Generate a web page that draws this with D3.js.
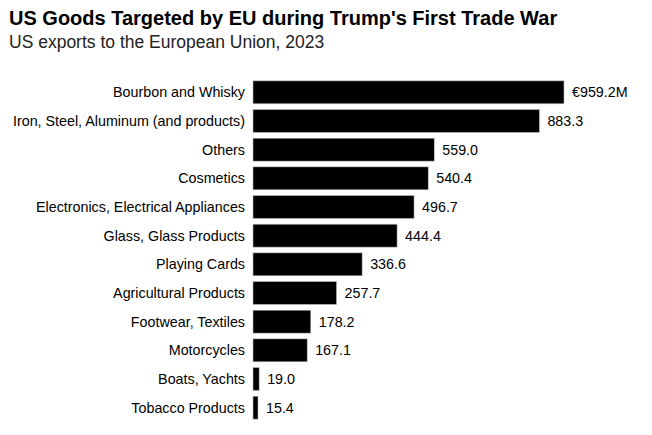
<!DOCTYPE html>
<html>
<head>
<meta charset="utf-8">
<script src="https://cdn.jsdelivr.net/npm/d3@7"></script>
<style>
  body { margin: 0; background: #fff; font-family: "Liberation Sans", Arial, sans-serif; }
  svg text { font-family: "Liberation Sans", Arial, sans-serif; }
</style>
</head>
<body>
<svg id="chart" width="652" height="435"></svg>
<script>
const categories = [
  'Bourbon and Whisky',
  'Iron, Steel, Aluminum (and products)',
  'Others',
  'Cosmetics',
  'Electronics, Electrical Appliances',
  'Glass, Glass Products',
  'Playing Cards',
  'Agricultural Products',
  'Footwear, Textiles',
  'Motorcycles',
  'Boats, Yachts',
  'Tobacco Products'
];
const values = [959.2, 883.3, 559.0, 540.4, 496.7, 444.4, 336.6, 257.7, 178.2, 167.1, 19.0, 15.4];

const title = "US Goods Targeted by EU during Trump's First Trade War";
const subtitle = 'US exports to the European Union, 2023';

const svg = d3.select('#chart');

svg.append('text')
  .attr('x', 9).attr('y', 25)
  .attr('font-size', 20).attr('font-weight', 'bold')
  .attr('fill', '#000')
  .text(title);

svg.append('text')
  .attr('x', 9).attr('y', 48)
  .attr('font-size', 17.5)
  .attr('fill', '#222')
  .text(subtitle);

const x0 = 253;
const x = d3.scaleLinear().domain([0, 959.2]).range([x0, 564]);
const y = d3.scaleBand().domain(categories).range([78, 422]).paddingInner(0.2).paddingOuter(0.1);

const data = categories.map((c, i) => ({ name: c, value: values[i] }));

svg.selectAll('rect.bar')
  .data(data)
  .enter().append('rect')
  .attr('class', 'bar')
  .attr('x', x0)
  .attr('y', d => y(d.name))
  .attr('width', d => x(d.value) - x0)
  .attr('height', y.bandwidth())
  .attr('fill', '#000')
  .attr('stroke', '#bbb')
  .attr('stroke-width', 0.6);

svg.selectAll('text.cat')
  .data(data)
  .enter().append('text')
  .attr('class', 'cat')
  .attr('x', 245)
  .attr('y', d => y(d.name) + y.bandwidth() / 2)
  .attr('dy', '0.35em')
  .attr('text-anchor', 'end')
  .attr('font-size', 14.3)
  .attr('fill', '#000')
  .text(d => d.name);

svg.selectAll('text.val')
  .data(data)
  .enter().append('text')
  .attr('class', 'val')
  .attr('x', d => x(d.value) + 8)
  .attr('y', d => y(d.name) + y.bandwidth() / 2)
  .attr('dy', '0.35em')
  .attr('font-size', 14.3)
  .attr('fill', '#000')
  .text((d, i) => i === 0 ? '€' + d.value.toFixed(1) + 'M' : d.value.toFixed(1));
</script>
</body>
</html>
